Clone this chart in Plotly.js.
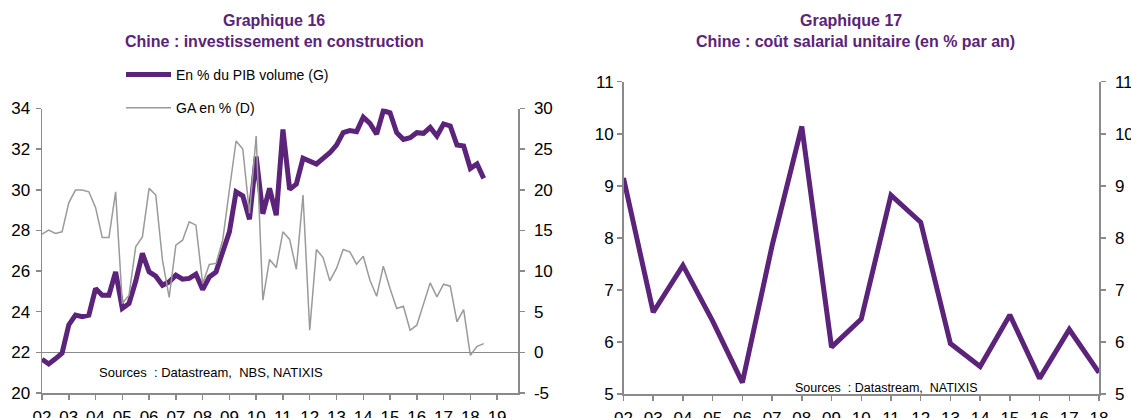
<!DOCTYPE html>
<html><head><meta charset="utf-8">
<script src="https://cdn.plot.ly/plotly-3.0.1.min.js"></script>
<style>html,body{margin:0;padding:0;background:#fff;} #chart{width:1131px;height:418px;}</style>
</head><body><div id="chart"></div>
<script>
// ---- Data ----
const quarterStartYear = 2002;           // first quarter: 2002 Q1
const pibShare = [21.66, 21.43, 21.68, 21.96, 23.35, 23.83, 23.75, 23.83, 25.14, 24.81,
  24.81, 25.96, 24.16, 24.4, 25.5, 26.87, 25.96, 25.75, 25.3, 25.47,
  25.8, 25.6, 25.64, 25.85, 25.09, 25.71, 25.96, 26.95, 27.93, 29.9,
  29.7, 28.55, 31.63, 28.82, 30.07, 28.75, 32.97, 30.02, 30.28, 31.55,
  31.43, 31.27, 31.55, 31.82, 32.2, 32.81, 32.91, 32.86, 33.57, 33.27,
  32.74, 33.89, 33.79, 32.81, 32.48, 32.56, 32.81, 32.78, 33.07, 32.65,
  33.24, 33.14, 32.2, 32.15, 31.05, 31.27, 30.56];
const gaGrowth = [14.54, 15.04, 14.63, 14.83, 18.4, 19.96, 19.96, 19.75, 17.83, 14.14,
  14.14, 19.75, 6.0, 7.03, 12.98, 14.2, 20.17, 19.35, 11.34, 6.75,
  13.19, 13.8, 16.06, 15.65, 8.47, 10.81, 10.94, 13.8, 20.0, 26.0,
  25.0, 17.1, 26.6, 6.42, 11.43, 10.44, 14.83, 13.89, 10.2, 19.35,
  2.72, 12.66, 11.67, 8.79, 10.32, 12.66, 12.37, 10.85, 11.83, 8.88,
  6.9, 10.6, 7.86, 5.39, 5.68, 2.72, 3.34, 6.09, 8.55, 6.82,
  8.39, 8.14, 3.74, 5.27, -0.36, 0.75, 1.08];
const leftYearTicks = [2002,2003,2004,2005,2006,2007,2008,2009,2010,2011,2012,2013,2014,2015,2016,2017,2018,2019];
const leftYearLabels = ['02','03','04','05','06','07','08','09','10','11','12','13','14','15','16','17','18','19'];
const gaTickVals = [-5, 0, 5, 10, 15, 20, 25, 30];
const gaTickLabels = ['-5', '0', '5', '10', '15', '20', '25', '30'];

const salaryYears = [2002,2003,2004,2005,2006,2007,2008,2009,2010,2011,2012,2013,2014,2015,2016,2017,2018];
const salaryLabels = ['02','03','04','05','06','07','08','09','10','11','12','13','14','15','16','17','18'];
const salaryCost = [9.15, 6.57, 7.47, 6.4, 5.22, 7.85, 10.14, 5.9, 6.44, 8.82, 8.3, 5.97, 5.53, 6.52, 5.3, 6.24, 5.41];

// ---- Build ----
const W = 1131, H = 418;
const px = v => v / W;
const py = v => (H - v) / H;
const quarterX = pibShare.map((_, i) => quarterStartYear + i / 4);

const purple = '#5b2379';
const grey = '#9a9a9a';
const axisGrey = '#8a8a8a';
const FONT = 'Liberation Sans, Arial, sans-serif';

const gaTrace = {x: quarterX, y: gaGrowth, xaxis: 'x', yaxis: 'y2', type: 'scatter', mode: 'lines',
   name: 'GA en % (D)', legendgroup: 'b', legendrank: 2,
   line: {color: grey, width: 1.5}, hoverinfo: 'skip'};
const pibTrace = {x: quarterX, y: pibShare, xaxis: 'x', yaxis: 'y', type: 'scatter', mode: 'lines',
   name: 'En % du PIB volume (G)', legendgroup: 'a', legendrank: 1,
   line: {color: purple, width: 5}, hoverinfo: 'skip'};
const salaryTrace = {x: salaryYears, y: salaryCost, xaxis: 'x2', yaxis: 'y3', type: 'scatter', mode: 'lines',
   showlegend: false, line: {color: purple, width: 5}, hoverinfo: 'skip'};
const salaryMirror = {x: salaryYears, y: salaryCost, xaxis: 'x2', yaxis: 'y4', type: 'scatter', mode: 'lines',
   showlegend: false, line: {color: 'rgba(0,0,0,0)', width: 0}, hoverinfo: 'skip'};

const axCommon = {
  showgrid: false, zeroline: false, showline: true, linecolor: axisGrey, linewidth: 1.5,
  ticks: 'outside', ticklen: 5, tickwidth: 1.5, tickcolor: axisGrey,
  tickfont: {family: FONT, size: 17, color: '#000'}, fixedrange: true
};

const layout = {
  width: W, height: H,
  margin: {l: 0, r: 0, t: 0, b: 0},
  paper_bgcolor: '#fff', plot_bgcolor: '#fff',
  font: {family: FONT, color: '#000'},
  showlegend: true,
  legend: {
    x: px(121), y: py(59), xanchor: 'left', yanchor: 'top',
    font: {family: FONT, size: 14, color: '#000'},
    traceorder: 'grouped', tracegroupgap: 12, itemwidth: 45,
    bgcolor: 'rgba(0,0,0,0)', borderwidth: 0
  },
  xaxis: Object.assign({}, axCommon, {
    domain: [px(42), px(518)], anchor: 'y', range: [2002, 2019.78],
    tickvals: leftYearTicks, ticktext: leftYearLabels, ticklabelstandoff: 3
  }),
  yaxis: Object.assign({}, axCommon, {
    domain: [py(393), py(108.5)], anchor: 'x', range: [20, 34], dtick: 2, tick0: 20,
    ticklabelstandoff: 2
  }),
  yaxis2: Object.assign({}, axCommon, {
    domain: [py(393), py(108.5)], anchor: 'x', overlaying: 'y', side: 'right',
    range: [-5, 30], tickvals: gaTickVals, ticktext: gaTickLabels,
    zeroline: true, zerolinecolor: axisGrey, zerolinewidth: 1.5, ticklabelstandoff: 6
  }),
  xaxis2: Object.assign({}, axCommon, {
    domain: [px(623.5), px(1099)], anchor: 'y3', range: [2002, 2018],
    tickvals: salaryYears, ticktext: salaryLabels, ticklabelstandoff: 3
  }),
  yaxis3: Object.assign({}, axCommon, {
    domain: [py(394), py(81.7)], anchor: 'x2', range: [5, 11], dtick: 1, tick0: 5
  }),
  yaxis4: Object.assign({}, axCommon, {
    domain: [py(394), py(81.7)], anchor: 'x2', overlaying: 'y3', side: 'right',
    range: [5, 11], dtick: 1, tick0: 5, ticklabelstandoff: 6
  }),
  annotations: [
    {text: '<b>Graphique 16</b>', xref: 'paper', yref: 'paper', x: px(274), y: py(20),
     xanchor: 'center', yanchor: 'middle', showarrow: false,
     font: {family: FONT, size: 16, color: purple}},
    {text: '<b>Chine : investissement en construction</b>', xref: 'paper', yref: 'paper', x: px(274), y: py(42),
     xanchor: 'center', yanchor: 'middle', showarrow: false,
     font: {family: FONT, size: 16, color: purple}},
    {text: '<b>Graphique 17</b>', xref: 'paper', yref: 'paper', x: px(851), y: py(20),
     xanchor: 'center', yanchor: 'middle', showarrow: false,
     font: {family: FONT, size: 16, color: purple}},
    {text: '<b>Chine : coût salarial unitaire (en % par an)</b>', xref: 'paper', yref: 'paper', x: px(855), y: py(42),
     xanchor: 'center', yanchor: 'middle', showarrow: false,
     font: {family: FONT, size: 16, color: purple}},
    {text: 'Sources  : Datastream,  NBS, NATIXIS', xref: 'paper', yref: 'paper', x: px(97), y: py(372),
     xanchor: 'left', yanchor: 'middle', showarrow: false,
     font: {family: FONT, size: 13, color: '#000'}},
    {text: 'Sources  : Datastream,  NATIXIS', xref: 'paper', yref: 'paper', x: px(793), y: py(388),
     xanchor: 'left', yanchor: 'middle', showarrow: false,
     font: {family: FONT, size: 12.5, color: '#000'}}
  ]
};

Plotly.newPlot('chart', [gaTrace, pibTrace, salaryTrace, salaryMirror], layout, {staticPlot: true, displayModeBar: false});
</script>
</body></html>
